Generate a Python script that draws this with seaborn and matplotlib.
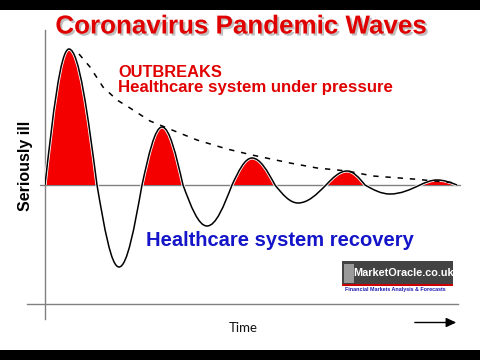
import numpy as np
import pandas as pd
import seaborn as sns
import matplotlib
matplotlib.use("Agg")
import matplotlib.pyplot as plt
from matplotlib.path import Path
from matplotlib.patches import PathPatch, Rectangle, FancyArrowPatch
import matplotlib.patheffects as pe

# ---- data (arbitrary units) ----
curve_t = [0, 24, 52, 74, 97, 117, 138, 162, 187, 207, 230, 253, 281, 302, 320, 345, 375, 392, 412]
curve_v = [0, 136, 0, -82, 0, 58, 0, -41, 0, 27, 0, -18, 0, 14, 0, -9, 0, 5, 0]

env_t = [34, 45, 58, 72, 85, 105, 132, 152, 182, 207, 245, 272, 302, 328, 368, 412]
env_v = [131, 118, 98, 85, 77, 64, 53, 45, 36, 30, 22, 17, 14, 9, 6, 2]

title = "Coronavirus Pandemic Waves"
note_top = ["OUTBREAKS", "Healthcare system under pressure"]
note_bottom = "Healthcare system recovery"
ylabel = "Seriously ill"
xlabel = "Time"

sns.set_style("white")
plt.rcParams["font.family"] = ["Liberation Sans", "DejaVu Sans"]

W, H = 480, 360
fig = plt.figure(figsize=(4.8, 3.6), dpi=100)
fig.patch.set_facecolor("white")

def fx(px):
    return px / W

def fy(py):
    return 1 - py / H

# axes: t=0 at px 45, t=413 at px 458; v=0 at py 185; bottom py 304, top py 30
ax = fig.add_axes([fx(45), fy(304), 413 / W, (304 - 30) / H])
ax.set_xlim(0, 413)
ax.set_ylim(-119, 155)
ax.set_xticks([])
ax.set_yticks([])
ax.patch.set_alpha(0)
for s in ["top", "right"]:
    ax.spines[s].set_visible(False)
for s in ["left", "bottom"]:
    ax.spines[s].set_color("#808080")
    ax.spines[s].set_linewidth(1.0)
ax.spines["left"].set_bounds(-134, 155)
ax.spines["bottom"].set_bounds(-18, 413)

# zero line
zero_df = pd.DataFrame({"t": [-5, 415], "v": [0, 0]})
sns.lineplot(data=zero_df, x="t", y="v", ax=ax, color="#808080", linewidth=1.0, clip_on=False)

# smooth curve through key points with quarter-sine bezier segments
K1X, K1Y, K2X = 0.3261, 0.5123, 0.6381

def segment(x0, y0, x1, y1):
    dx = x1 - x0
    if y0 == 0:
        c1 = (x0 + K1X * dx, K1Y * y1)
        c2 = (x0 + K2X * dx, y1)
    else:
        c1 = (x0 + (1 - K2X) * dx, y0)
        c2 = (x0 + (1 - K1X) * dx, K1Y * y0)
    return [c1, c2, (x1, y1)]

verts = [(curve_t[0], curve_v[0])]
codes = [Path.MOVETO]
for i in range(len(curve_t) - 1):
    verts += segment(curve_t[i], curve_v[i], curve_t[i + 1], curve_v[i + 1])
    codes += [Path.CURVE4] * 3

# red lobes above zero
for i in range(1, len(curve_t) - 1):
    if curve_v[i] > 0:
        lv = [(curve_t[i - 1], 0)]
        lv += segment(curve_t[i - 1], curve_v[i - 1], curve_t[i], curve_v[i])
        lv += segment(curve_t[i], curve_v[i], curve_t[i + 1], curve_v[i + 1])
        lv += [(curve_t[i - 1], 0)]
        lc = [Path.MOVETO] + [Path.CURVE4] * 6 + [Path.CLOSEPOLY]
        ax.add_patch(PathPatch(Path(lv, lc), facecolor="#f50000", edgecolor="none", zorder=2))

line = PathPatch(Path(verts, codes), facecolor="none", edgecolor="black", linewidth=1.1, zorder=3)
line.set_path_effects([pe.Stroke(linewidth=2.3, foreground="white"), pe.Normal()])
ax.add_patch(line)

# dashed envelope
env_df = pd.DataFrame({"t": env_t, "v": env_v})
sns.lineplot(data=env_df, x="t", y="v", ax=ax, color="black", linewidth=1.1,
             dashes=False, zorder=4)
ax.lines[-1].set_dashes([3.5, 4.5])
ax.set_xlabel("")
ax.set_ylabel("")

# labels
ax.text(-0.048, 0.504, ylabel, transform=ax.transAxes, rotation=90, ha="center", va="center",
        fontsize=11.5, fontweight="bold", color="black")
fig.text(fx(243), fy(327.5), xlabel, ha="center", va="center", fontsize=9.5,
         family=["Lato", "DejaVu Sans"], color="#111111")
arr = FancyArrowPatch((fx(412), fy(322.5)), (fx(459), fy(322.5)), transform=fig.transFigure,
                      arrowstyle="-|>,head_length=6,head_width=2.8", color="black", linewidth=1.0,
                      mutation_scale=1)
fig.patches.append(arr)

# title
t = fig.text(fx(241.5), fy(26.5), title, ha="center", va="center", fontsize=18.7,
             fontweight="bold", color="#e00000")
t.set_path_effects([pe.withSimplePatchShadow(offset=(1.5, -1.5), shadow_rgbFace="gray", alpha=0.5)])

fig.text(fx(118), fy(77.3), note_top[0], ha="left", va="baseline", fontsize=11.8,
         fontweight="bold", color="#e00000")
fig.text(fx(118), fy(91.7), note_top[1], ha="left", va="baseline", fontsize=12.1,
         fontweight="bold", color="#e00000")
fig.text(fx(146.5), fy(246), note_bottom, ha="left", va="baseline", fontsize=14.5,
         fontweight="bold", color="#1414c8")

# logo
fig.patches.append(Rectangle((fx(342), fy(284)), (453 - 342) / W, (284 - 261) / H,
                             transform=fig.transFigure, facecolor="#434343", edgecolor="none"))
fig.patches.append(Rectangle((fx(342), fy(286)), (453 - 342) / W, 2.3 / H,
                             transform=fig.transFigure, facecolor="#cc0000", edgecolor="none"))
fig.patches.append(Rectangle((fx(344), fy(283)), 10 / W, 19 / H,
                             transform=fig.transFigure, facecolor="#9a9a9a", edgecolor="none"))
fig.text(fx(404), fy(273), "MarketOracle.co.uk", ha="center", va="center", fontsize=7.8,
         fontweight="bold", color="white")
fig.text(fx(395), fy(289.5), "Financial Markets Analysis & Forecasts", ha="center", va="center",
         fontsize=3.9, fontweight="bold", color="#1a1ab0")

# black bars top and bottom
fig.patches.append(Rectangle((0, fy(10)), 1, 10 / H, transform=fig.transFigure,
                             facecolor="black", edgecolor="none"))
fig.patches.append(Rectangle((0, 0), 1, 10 / H, transform=fig.transFigure,
                             facecolor="black", edgecolor="none"))

fig.savefig("out.png", dpi=100)
